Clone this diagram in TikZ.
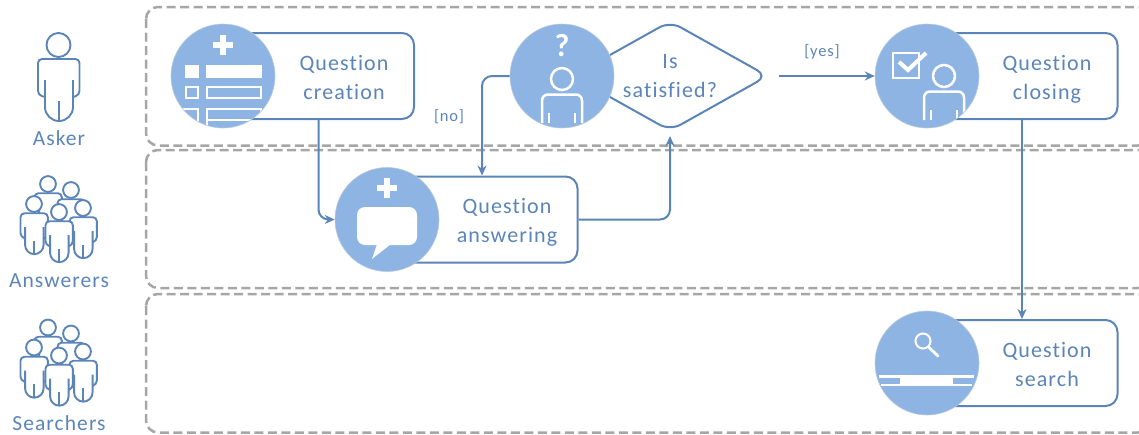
\documentclass[tikz,border=0pt]{standalone}
\usepackage{fontspec}
\setmainfont[LetterSpace=5,Ligatures=NoCommon]{Carlito}
\usetikzlibrary{arrows.meta}
\usetikzlibrary{shapes.geometric}
\definecolor{linecol}{HTML}{5B85B8}
\definecolor{iconcol}{HTML}{8EB4E3}
\definecolor{lanecol}{HTML}{A6A6A6}
\tikzset{
  lane/.style={draw=lanecol,line width=2.5pt,rounded corners=12pt,dash pattern=on 9pt off 4.5pt},
  procbox/.style={draw=linecol,line width=2pt,fill=white,rounded corners=12pt,minimum width=191pt,minimum height=86pt,inner sep=0pt},
  icon/.style={circle,draw=iconcol!70!gray!60,line width=.6pt,fill=iconcol,minimum size=104pt,inner sep=0pt},
  decision/.style={diamond,aspect=2,draw=linecol,line width=2pt,fill=white,rounded corners=12pt,minimum width=196pt,minimum height=110pt,inner sep=0pt,align=center,text=linecol,font=\fontsize{22}{29}\selectfont},
  proctext/.style={align=center,text=linecol,inner sep=0pt,font=\fontsize{22}{29}\selectfont},
  actor/.style={text=linecol,inner sep=0pt,font=\fontsize{21.5}{26}\selectfont},
  guard/.style={text=linecol,inner sep=0pt,font=\fontsize{16.5}{18}\selectfont},
  flow/.style={draw=linecol,line width=2pt,rounded corners=10pt,-{Stealth[length=10pt,width=9pt]}},
  whiteline/.style={draw=white,line width=2.5pt},
  person/.pic={
    \fill[white,rounded corners=4pt] (-20.5,14) -- (21,14) -- (21,50) -- (14.5,52) -- (14.5,75) -- (-13.5,75) -- (-13.5,52) -- (-20.5,50) -- cycle;
    \draw[linecol,fill=white,line width=1.9pt] (0,0) circle[radius=12];
    \draw[linecol,line width=1.9pt,rounded corners=4pt] (-13.5,52) -- (-20.5,50) -- (-20.5,14) -- (21,14) -- (21,50) -- (14.5,52);
    \draw[linecol,line width=1.9pt] (-13.5,35) -- (-13.5,62) arc[start angle=180,end angle=0,x radius=14,y radius=14] -- (14.5,35);
    \draw[linecol,line width=1.9pt] (.5,56) -- (.5,75);
  },
  bust/.pic={
    \draw[whiteline] (0,0) circle[radius=11];
    \draw[whiteline,rounded corners=6pt] (-20,44) -- (-20,15.5) -- (20,15.5) -- (20,44);
    \draw[whiteline] (-13,34) -- (-13,44);
    \draw[whiteline] (13,34) -- (13,44);
  }
}
\begin{document}
\begin{tikzpicture}[x=1pt,y=-1pt]
\useasboundingbox (0,0) rectangle (1139,434);
\clip (0,0) rectangle (1139,434);
% swimlanes
\foreach \t/\b in {7/145.5,150/288,294/432.5} {
  \draw[lane] (146,\t) rectangle (1150,\b);
}
% boxes
\node[procbox] (creationbox) at (318.5,76) {};
\node[procbox] (answeringbox) at (482,219.5) {};
\node[procbox] (closingbox) at (1022,76) {};
\node[procbox] (searchbox) at (1022,363) {};
\node[decision] (satisfied) at (670,76) {Is\\satisfied?};
% connectors
\node[icon] (creationicon) at (223,76) {};
\node[icon] (answeringicon) at (387,219.5) {};
\node[icon] (satisfiedicon) at (562,76) {};
\node[icon] (closingicon) at (927,76) {};
\node[icon] (searchicon) at (927,363) {};
\draw[flow] (creationbox.south) |- (answeringicon.west);
\draw[flow,shorten >=4pt] (answeringbox.east) -| (satisfied.south);
\draw[flow] (satisfiedicon.west) -| (answeringbox.north);
\draw[flow,shorten <=10pt] (satisfied.east) -- (closingicon.west);
\draw[flow] (closingbox.south) -- (searchbox.north);
% texts
\node[proctext] (creationtext) at (344,78) {Question\\creation};
\node[proctext] (answeringtext) at (507,222) {Question\\answering};
\node[proctext] (closingtext) at (1047,79) {Question\\closing};
\node[proctext] (searchtext) at (1047,365) {Question\\search};
\node[guard] (notext) at (449,117) {[no]};
\node[guard] (yestext) at (822,52) {[yes]};
\node[actor] (asker) at (59,138) {Asker};
\node[actor] (answerers) at (59,281) {Answerers};
\node[actor] (searchers) at (59,423.5) {Searchers};
% actors
\pic at (58.5,45) {person};
\foreach \d in {0,143.5} {
  \foreach \x/\y in {48/184,71/190,34/204,83/208,59/212} {
    \pic[scale=.66] at (\x,\y+\d) {person};
  }
}
% creation icon
\fill[white] (220,35) rectangle (226,55);
\fill[white] (213,42) rectangle (233,48);
\fill[white] (185,65) rectangle (199,78);
\fill[white] (206,65) rectangle (262,78);
\begin{scope}
  \clip (creationicon.center) circle[radius=51.5];
  \draw[whiteline] (186,87) rectangle (198,98);
  \draw[whiteline] (207,87) rectangle (261,98);
  \draw[whiteline] (180,109) -- (198,109) -- (198,130);
  \draw[whiteline] (207,130) -- (207,109) -- (261,109) -- (261,130);
  \draw[whiteline] (207,120) -- (261,120);
\end{scope}
% answering icon
\fill[white] (384,178) rectangle (390,198);
\fill[white] (377,185) rectangle (397,191);
\fill[white,rounded corners=8pt] (357,207) rectangle (417,245);
\fill[white] (377,244) -- (372,259) -- (391,244) -- cycle;
% satisfied icon
\node[text=white,inner sep=0pt,font=\bfseries\fontsize{32}{32}\selectfont] (questionmark) at (562,46) {?};
\begin{scope}
  \clip (satisfiedicon.center) circle[radius=51.5];
  \pic at (562,79) {bust};
\end{scope}
% closing icon
\draw[whiteline] (893,53) rectangle (919,78);
\draw[draw=white,line width=4pt] (899,62) -- (908,70) -- (926,53);
\begin{scope}
  \clip (closingicon.center) circle[radius=51.5];
  \pic at (944,76) {bust};
\end{scope}
% search icon
\draw[whiteline,line width=2pt] (923,341) circle[radius=7.5];
\draw[whiteline,line cap=round,line width=2.8pt] (928.5,347) -- (938,356);
\fill[white] (900,376) rectangle (953,386);
\draw[whiteline] (879,376.5) -- (974,376.5);
\draw[whiteline] (881,385) -- (972,385);
\end{tikzpicture}
\end{document}
